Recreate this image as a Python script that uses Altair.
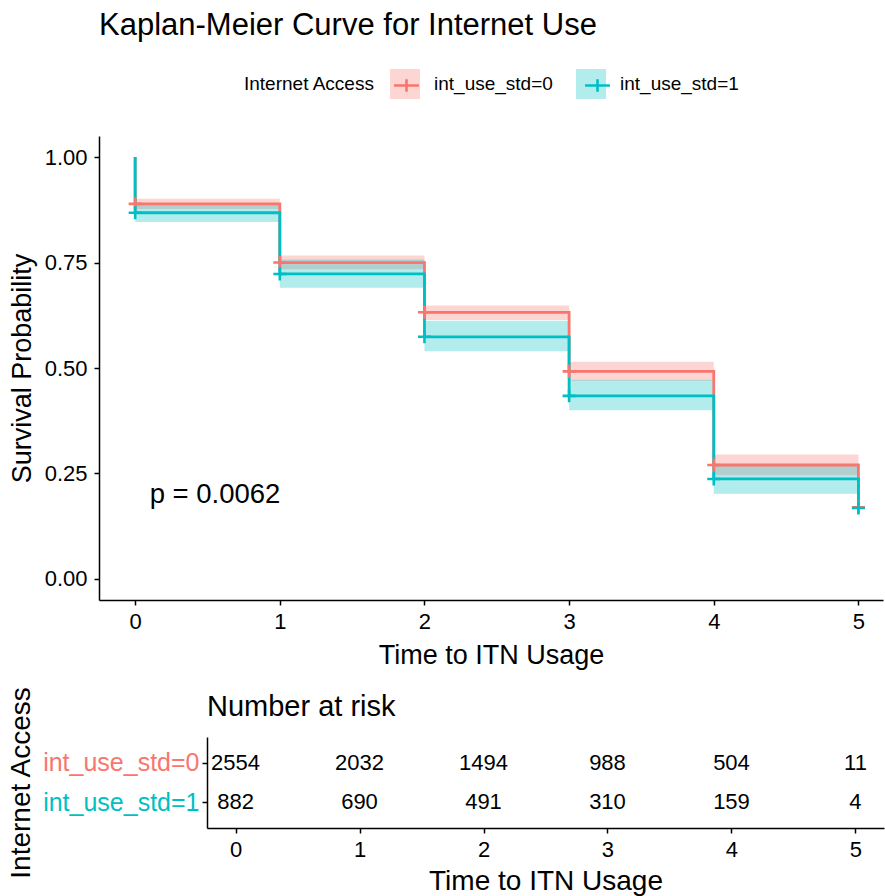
import altair as alt
import pandas as pd

RED = "#F8766D"
TEAL = "#00BFC4"
FONT = "Liberation Sans"

groups = ["int_use_std=0", "int_use_std=1"]

# Kaplan-Meier step curves (first point = start at 1.0, then value after each step)
curve_time = [0, 0, 1, 2, 3, 4, 5]
surv_0 = [1.0, 0.889, 0.750, 0.632, 0.492, 0.270, 0.170]
surv_1 = [1.0, 0.868, 0.723, 0.574, 0.434, 0.237, 0.168]

# confidence bands (value held from each time until the next)
band_time = [0, 1, 2, 3, 4, 5]
lower_0 = [0.877, 0.734, 0.614, 0.470, 0.246, 0.246]
upper_0 = [0.901, 0.767, 0.648, 0.515, 0.295, 0.295]
lower_1 = [0.846, 0.690, 0.540, 0.400, 0.202, 0.202]
upper_1 = [0.890, 0.757, 0.612, 0.472, 0.272, 0.272]

# censoring marks
cens_time = [0, 1, 2, 3, 4, 5]
cens_0 = [0.889, 0.750, 0.632, 0.492, 0.270, 0.170]
cens_1 = [0.868, 0.723, 0.574, 0.434, 0.237, 0.168]

# number at risk
risk_time = [0, 1, 2, 3, 4, 5]
risk_0 = [2554, 2032, 1494, 988, 504, 11]
risk_1 = [882, 690, 491, 310, 159, 4]

pval_text = ["p = 0.0062"]
pval_x = [0.1]
pval_y = [0.2]

# ---- tables built from the arrays ----
curve_df = pd.DataFrame({
    "time": curve_time + curve_time,
    "surv": surv_0 + surv_1,
    "group": [groups[0]] * len(curve_time) + [groups[1]] * len(curve_time),
    "idx": list(range(len(curve_time))) * 2,
})
band_df = pd.DataFrame({
    "time": band_time + band_time,
    "lower": lower_0 + lower_1,
    "upper": upper_0 + upper_1,
    "group": [groups[0]] * len(band_time) + [groups[1]] * len(band_time),
})
cens_df = pd.DataFrame({
    "time": cens_time + cens_time,
    "surv": cens_0 + cens_1,
    "group": [groups[0]] * len(cens_time) + [groups[1]] * len(cens_time),
})
risk_df = pd.DataFrame({
    "time": risk_time + risk_time,
    "n": risk_0 + risk_1,
    "group": [groups[0]] * len(risk_time) + [groups[1]] * len(risk_time),
})
pval_df = pd.DataFrame({"x": pval_x, "y": pval_y, "label": pval_text})

CROSS = "M-1,0H1M0,-1V1"
CROSS_LEG = "M-0.83,0H0.83M0,-0.42V0.42"

xscale = alt.Scale(domain=[-0.25, 5.17], nice=False, zero=False)
yscale = alt.Scale(domain=[-0.05, 1.05], nice=False, zero=False)
fill_scale = alt.Scale(domain=groups, range=[RED, TEAL])
stroke_scale = alt.Scale(domain=groups, range=[RED, TEAL])

x_axis = alt.Axis(values=[0, 1, 2, 3, 4, 5], format="d", title="Time to ITN Usage",
                  labelPadding=6, titlePadding=10)
y_axis = alt.Axis(values=[0, 0.25, 0.5, 0.75, 1.0], format=".2f", title="Survival Probability",
                  labelPadding=7, titlePadding=8)

LEG_X = 145
LEG_Y = -67
common_leg = dict(orient="none", legendX=LEG_X, legendY=LEG_Y, direction="horizontal",
                  title="Internet Access", titleOrient="left", titleFontSize=19,
                  titleFontWeight="normal", titlePadding=15, titleBaseline="middle",
                  titleAnchor="middle", labelFontSize=19, labelOffset=14, columnPadding=23,
                  symbolSize=900, labelLimit=300)

bands = alt.Chart(band_df).mark_area(interpolate="step-after", opacity=0.3).encode(
    x=alt.X("time:Q", scale=xscale, axis=x_axis),
    y=alt.Y("lower:Q", scale=yscale, axis=y_axis),
    y2="upper:Q",
    fill=alt.Fill("group:N", scale=fill_scale,
                  legend=alt.Legend(symbolType="square", symbolOpacity=0.3, symbolStrokeWidth=0,
                                    titleColor="black", labelColor="black", **common_leg)),
)

lines = alt.Chart(curve_df).mark_line(interpolate="step-after", strokeWidth=2.8).encode(
    x=alt.X("time:Q", scale=xscale),
    y=alt.Y("surv:Q", scale=yscale),
    stroke=alt.Stroke("group:N", scale=stroke_scale, legend=None),
    order="idx:Q",
)

crosses = alt.Chart(cens_df).mark_point(shape=CROSS, filled=False, size=170, strokeWidth=2.6,
                                        opacity=1).encode(
    x=alt.X("time:Q", scale=xscale),
    y=alt.Y("surv:Q", scale=yscale),
    stroke=alt.Stroke("group:N", scale=stroke_scale,
                      legend=alt.Legend(symbolType=CROSS_LEG, symbolStrokeWidth=2.6,
                                        symbolFillColor="transparent", symbolOpacity=1,
                                        titleColor="transparent", labelColor="transparent",
                                        **common_leg)),
)

pval = alt.Chart(pval_df).mark_text(align="left", baseline="middle", fontSize=27.5,
                                    color="black").encode(
    x=alt.X("x:Q", scale=xscale),
    y=alt.Y("y:Q", scale=yscale),
    text="label:N",
)

top = alt.layer(bands, lines, crosses, pval).resolve_legend(
    fill="independent", stroke="independent"
).properties(
    width=784, height=464,
    title=alt.TitleParams("Kaplan-Meier Curve for Internet Use", anchor="start", frame="group",
                          fontSize=31, fontWeight="normal", color="black", offset=27),
)

table = alt.Chart(risk_df).mark_text(fontSize=22, color="black").encode(
    x=alt.X("time:Q", scale=alt.Scale(domain=[-0.23, 5.23], nice=False, zero=False),
            axis=alt.Axis(values=[0, 1, 2, 3, 4, 5], format="d", title="Time to ITN Usage",
                          labelPadding=6, titlePadding=7, titleFontSize=28)),
    y=alt.Y("group:N", scale=alt.Scale(type="point", domain=groups, padding=0.64),
            axis=alt.Axis(title="Internet Access", labelFontSize=25, labelPadding=3,
                          titlePadding=7, titleFontSize=28,
                          labelColor={"condition": {"test": "datum.value === 'int_use_std=0'",
                                                    "value": RED}, "value": TEAL})),
    text="n:Q",
).properties(
    width=677, height=91,
    title=alt.TitleParams("Number at risk", anchor="start", frame="group", fontSize=29,
                          fontWeight="normal", color="black", offset=-36),
)

spacer_df = pd.DataFrame({"a": [0]})


def spacer():
    return alt.Chart(spacer_df).mark_point(opacity=0, size=0, strokeWidth=0).encode(
        x=alt.value(0), y=alt.value(0)
    ).properties(width=1, height=1)


chart = alt.vconcat(
    alt.hconcat(spacer(), top, spacing=0),
    alt.hconcat(spacer(), table, spacing=0),
    spacing=16,
).properties(
    padding={"left": 4, "top": 9, "right": 0, "bottom": 0}
).configure(font=FONT).configure_axis(
    domainColor="black", domainWidth=1.5, tickColor="black", tickWidth=1.5, tickSize=5,
    labelColor="black", titleColor="black", titleFontWeight="normal", grid=False,
    labelFontSize=22, titleFontSize=27,
).configure_view(stroke="transparent")

chart.save("out.html", embed_options={"renderer": "svg", "actions": False})
